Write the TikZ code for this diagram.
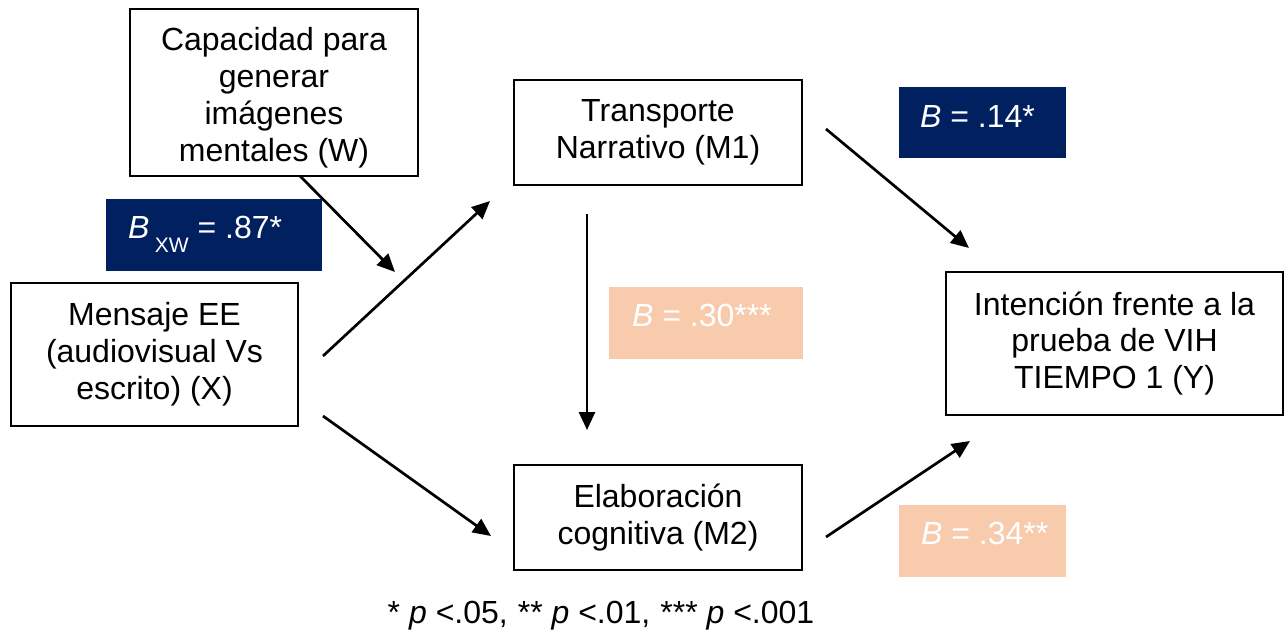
\documentclass[tikz,border=0pt]{standalone}
\usepackage{fontspec}
\setmainfont{Liberation Sans}
\usetikzlibrary{arrows.meta,calc}
\definecolor{navyfill}{HTML}{002060}
\definecolor{peachfill}{HTML}{F8CBAD}
\begin{document}
\begin{tikzpicture}[x=1pt,y=-1pt,
  txt/.style={font=\fontsize{32}{36.8}\selectfont},
  varbox/.style={txt,draw=black,line width=2pt,align=center,inner sep=0pt},
  coefbox/.style={rectangle,inner sep=0pt,anchor=north west},
  navybox/.style={coefbox,fill=navyfill},
  peachbox/.style={coefbox,fill=peachfill},
  coeftext/.style={txt,text=white,anchor=base west,inner sep=0pt},
  path/.style={line width=2.7pt,-{Triangle[length=18pt,width=16pt]}}]
\useasboundingbox (0,0) rectangle (1286,634);

% variables
\node[varbox,minimum width=288pt,minimum height=167pt] (W) at (274,92.5)
  {\rule{0pt}{34pt}Capacidad para\\generar\\imágenes\\mentales (W)};
\node[varbox,minimum width=287pt,minimum height=143pt] (X) at (154.5,354.5)
  {Mensaje EE\\(audiovisual Vs\\escrito) (X)};
\node[varbox,minimum width=288pt,minimum height=105pt] (M1) at (658,132.5)
  {Transporte\\Narrativo (M1)};
\node[varbox,minimum width=288pt,minimum height=105pt] (M2) at (658,517.5)
  {Elaboración\\cognitiva (M2)};
\node[varbox,minimum width=337pt,minimum height=143pt] (Y) at (1114.5,343.5)
  {Intención frente a la\\prueba de VIH\\TIEMPO 1 (Y)};

% coefficient labels
\node[navybox,minimum width=216pt,minimum height=72pt] (bxw) at (106,199) {};
\node[coeftext] (bxwt) at ($(bxw.north west)+(22,39)$)
  {\textit{B}\,\raisebox{-14pt}{\fontsize{21}{21}\selectfont XW} = .87*};
\node[navybox,minimum width=167pt,minimum height=71pt] (b14) at (899,87) {};
\node[coeftext] (b14t) at ($(b14.north west)+(21,40)$) {\textit{B} = .14*};
\node[peachbox,minimum width=194pt,minimum height=72pt] (b30) at (609,287) {};
\node[coeftext] (b30t) at ($(b30.north west)+(23,39)$) {\textit{B} = .30***};
\node[peachbox,minimum width=167pt,minimum height=72pt] (b34) at (899,505) {};
\node[coeftext] (b34t) at ($(b34.north west)+(22,39)$) {\textit{B} = .34**};

% free ends of the paths
\coordinate (w0) at (300,176);  \coordinate (w1) at (395,272);
\coordinate (a0) at (323,356);  \coordinate (a1) at (490,201);
\coordinate (c0) at (323,416);  \coordinate (c1) at (491,536);
\coordinate (d0) at (587,214);  \coordinate (d1) at (587,430);
\coordinate (b0) at (826,129);  \coordinate (b1) at (969,248);
\coordinate (e0) at (826,537);  \coordinate (e1) at (970,441);

\draw[path] (w0) -- (w1);
\draw[path] (a0) -- (a1);
\draw[path] (c0) -- (c1);
\draw[path] (d0) -- (d1);
\draw[path] (b0) -- (b1);
\draw[path] (e0) -- (e1);

% significance note
\node[txt,anchor=base,inner sep=0pt] (note) at (601,623)
  {* \textit{p} <.05,\hspace{10pt}** \textit{p} <.01,\hspace{10pt}*** \textit{p} <.001};
\end{tikzpicture}
\end{document}
